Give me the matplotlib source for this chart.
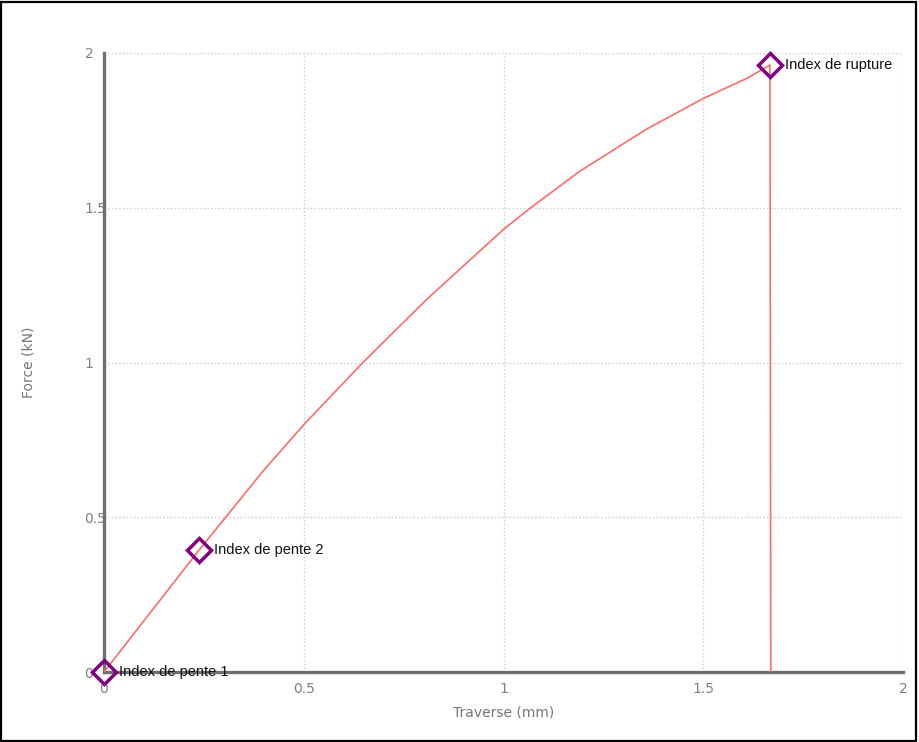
import numpy as np
import matplotlib.pyplot as plt
from matplotlib.patches import Rectangle

# curve
traverse = [0, 0.238, 0.4, 0.5, 0.648, 0.807, 1.0, 1.065, 1.191, 1.24,
            1.358, 1.5, 1.609, 1.667, 1.669]
force = [0, 0.394, 0.652, 0.799, 1.0, 1.203, 1.43, 1.497, 1.618, 1.658,
         1.754, 1.853, 1.918, 1.961, 0]

# index markers
idx_x = [0, 0.238, 1.667]
idx_y = [0, 0.394, 1.961]
idx_names = ['Index de pente 1', 'Index de pente 2', 'Index de rupture']

ticks = [0, 0.5, 1, 1.5, 2]
tick_labels = ['0', '0.5', '1', '1.5', '2']

fig = plt.figure(figsize=(9.19, 7.42), dpi=100)
ax = fig.add_axes([104/919, 1-672/742, 799/919, 619/742])

ax.plot(traverse, force, color='#ff6b6b', lw=1.2, zorder=3)
ax.plot(idx_x, idx_y, ls='none', marker='D', ms=12, mfc='none',
        mec='#800080', mew=2.5, zorder=4, clip_on=False)
for x, y, name in zip(idx_x, idx_y, idx_names):
    ax.annotate(name, (x, y), xytext=(11, 0), textcoords='offset points',
                va='center', ha='left', fontsize=10.5, family='Liberation Sans',
                color='#111111', zorder=5)

ax.set_xlim(0, 2)
ax.set_ylim(0, 2)
ax.set_xticks(ticks)
ax.set_xticklabels(tick_labels)
ax.set_yticks(ticks)
ax.set_yticklabels(tick_labels, ha='left')
ax.tick_params(length=0, labelsize=10, labelcolor='#808080')
ax.tick_params(axis='x', pad=7)
ax.tick_params(axis='y', pad=14)
ax.grid(True, ls=':', color='#cccccc', lw=1)

for s in ['top', 'right']:
    ax.spines[s].set_visible(False)
for s in ['left', 'bottom']:
    ax.spines[s].set_color('#707070')
    ax.spines[s].set_linewidth(2.4)

ax.set_xlabel('Traverse (mm)', fontsize=10, color='#777777')
ax.xaxis.set_label_coords(0.5, -34/619)
ax.set_ylabel('Force (kN)', fontsize=10, color='#777777')
ax.yaxis.set_label_coords(-69/799, 0.5)

# black frame round the picture
fig.patches.append(Rectangle((1/919, 1/742), 915/919, 739/742, transform=fig.transFigure,
                             fill=False, edgecolor='black', lw=1.6))

plt.savefig('out.png', dpi=100)
